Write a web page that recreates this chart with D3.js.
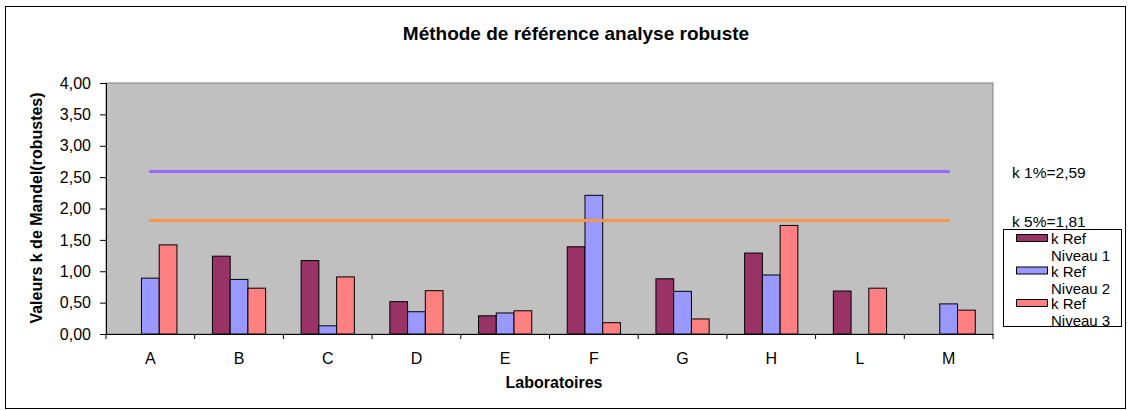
<!DOCTYPE html>
<html>
<head>
<meta charset="utf-8">
<script src="https://cdn.jsdelivr.net/npm/d3@7"></script>
<style>
  body { margin: 0; background: #fff; }
  text { font-family: "Liberation Sans", Arial, sans-serif; fill: #000; }
</style>
</head>
<body>
<script>
const labs = ["A", "B", "C", "D", "E", "F", "G", "H", "L", "M"];
const niveau1 = [0, 1.24, 1.17, 0.515, 0.29, 1.39, 0.88, 1.29, 0.685, 0];
const niveau2 = [0.89, 0.87, 0.13, 0.355, 0.335, 2.21, 0.68, 0.94, 0, 0.48];
const niveau3 = [1.42, 0.73, 0.91, 0.69, 0.37, 0.18, 0.24, 1.73, 0.73, 0.38];
const seriesNames = ["k Ref Niveau 1", "k Ref Niveau 2", "k Ref Niveau 3"];
const limits = [
  { label: "k 1%=2,59", value: 2.59 },
  { label: "k 5%=1,81", value: 1.81 },
];
const yTicks = [0, 0.5, 1, 1.5, 2, 2.5, 3, 3.5, 4];

const width = 1128;
const height = 410;
const plot = { left: 106, top: 83, right: 993, bottom: 334 };
const colors = ["#993366", "#9999ff", "#ff8080"];
const lineColors = ["#9966ff", "#f79646"];

const svg = d3.select("body")
  .append("svg")
  .attr("width", width)
  .attr("height", height);

// outer chart frame
svg.append("rect")
  .attr("x", 5.5).attr("y", 6.5)
  .attr("width", 1120).attr("height", 402)
  .attr("fill", "#fff")
  .attr("stroke", "#000");

const x = d3.scaleBand()
  .domain(labs)
  .range([plot.left, plot.right]);

const xInner = d3.scaleBand()
  .domain([0, 1, 2])
  .range([x.bandwidth() / 5, x.bandwidth() * 4 / 5]);

const y = d3.scaleLinear()
  .domain([0, 4])
  .range([plot.bottom, plot.top]);

svg.append("rect")
  .attr("x", plot.left).attr("y", plot.top)
  .attr("width", plot.right - plot.left)
  .attr("height", plot.bottom - plot.top)
  .attr("fill", "#c0c0c0")
  .attr("stroke", "#808080");

const series = [niveau1, niveau2, niveau3];

const groups = svg.append("g")
  .selectAll("g")
  .data(labs)
  .join("g")
  .attr("transform", (d) => `translate(${x(d)},0)`);

groups.selectAll("rect")
  .data((d, i) => series.map((s, k) => ({ k, v: s[i] })).filter((e) => e.v > 0))
  .join("rect")
  .attr("x", (d) => xInner(d.k))
  .attr("y", (d) => y(d.v))
  .attr("width", xInner.bandwidth())
  .attr("height", (d) => y(0) - y(d.v))
  .attr("fill", (d) => colors[d.k])
  .attr("stroke", "#000")
  .attr("stroke-width", 1);

// limit lines from first to last category centre
svg.append("g")
  .selectAll("line")
  .data(limits)
  .join("line")
  .attr("x1", x(labs[0]) + x.bandwidth() / 2)
  .attr("x2", x(labs[labs.length - 1]) + x.bandwidth() / 2)
  .attr("y1", (d) => y(d.value))
  .attr("y2", (d) => y(d.value))
  .attr("stroke", (d, i) => lineColors[i])
  .attr("stroke-width", 3)
  .attr("stroke-linecap", "round");

svg.append("g")
  .selectAll("text")
  .data(limits)
  .join("text")
  .attr("x", 1012)
  .attr("y", (d) => y(d.value) + 7)
  .attr("font-size", 15.5)
  .text((d) => d.label);

// axes
const yAxis = svg.append("g")
  .attr("transform", `translate(${plot.left},0)`)
  .call(d3.axisLeft(y).tickValues(yTicks).tickSize(6).tickPadding(9)
    .tickFormat((d) => d3.format(".2f")(d).replace(".", ",")));
yAxis.selectAll("text").attr("font-size", 16).attr("font-family", null);
yAxis.selectAll("path, line").attr("stroke", "#000");

const xAxis = svg.append("g")
  .attr("transform", `translate(0,${plot.bottom})`)
  .call(d3.axisBottom(x).tickSize(0).tickPadding(19));
xAxis.selectAll("text").attr("font-size", 16).attr("font-family", null);
xAxis.select("path").attr("stroke", "#000");

svg.append("g")
  .selectAll("line")
  .data(labs.concat(["end"]))
  .join("line")
  .attr("x1", (d, i) => plot.left + i * x.bandwidth())
  .attr("x2", (d, i) => plot.left + i * x.bandwidth())
  .attr("y1", plot.bottom)
  .attr("y2", plot.bottom + 5)
  .attr("stroke", "#000");

// titles
svg.append("text")
  .attr("x", 576).attr("y", 40)
  .attr("text-anchor", "middle")
  .attr("font-size", 19)
  .attr("font-weight", "bold")
  .text("Méthode de référence analyse robuste");

svg.append("text")
  .attr("x", 554).attr("y", 388)
  .attr("text-anchor", "middle")
  .attr("font-size", 16)
  .attr("font-weight", "bold")
  .text("Laboratoires");

svg.append("text")
  .attr("transform", "translate(42,208) rotate(-90)")
  .attr("text-anchor", "middle")
  .attr("font-size", 16)
  .attr("font-weight", "bold")
  .text("Valeurs k de Mandel(robustes)");

// legend
const legend = svg.append("g");
legend.append("rect")
  .attr("x", 1003.5).attr("y", 229.5)
  .attr("width", 118).attr("height", 97)
  .attr("fill", "#fff")
  .attr("stroke", "#000");

const items = legend.selectAll("g")
  .data(seriesNames)
  .join("g")
  .attr("transform", (d, i) => `translate(0,${i * 32.5})`);

items.append("rect")
  .attr("x", 1016.5).attr("y", 234.5)
  .attr("width", 31).attr("height", 7)
  .attr("fill", (d, i) => colors[i])
  .attr("stroke", "#000");

items.append("text")
  .attr("x", 1051).attr("y", 244)
  .attr("font-size", 15)
  .text((d) => d.split(" ").slice(0, 2).join(" "));

items.append("text")
  .attr("x", 1051).attr("y", 261)
  .attr("font-size", 15)
  .text((d) => d.split(" ").slice(2).join(" "));
</script>
</body>
</html>
